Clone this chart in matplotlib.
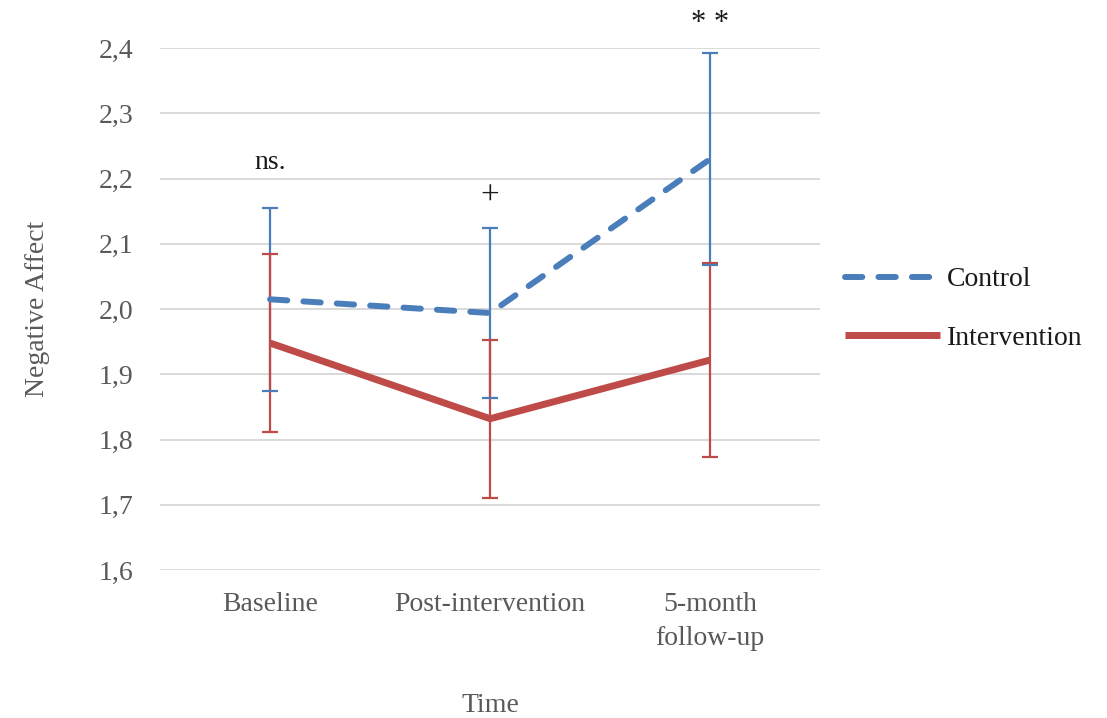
import numpy as np
import matplotlib.pyplot as plt

# data
categories = ['Baseline', 'Post-intervention', '5-month\nfollow-up']
control_mean = [2.015, 1.994, 2.230]
control_err = [0.140, 0.131, 0.163]
interv_mean = [1.948, 1.832, 1.922]
interv_err = [0.136, 0.121, 0.149]
sig_labels = ['ns.', '+', '* *']
sig_heights = [2.224, 2.172, 2.438]
sig_sizes = [20, 24, 22]

blue = '#4A7EBB'
red = '#BE4B48'
grey = '#595959'

plt.rcParams['font.family'] = ['Liberation Serif', 'DejaVu Serif']

fig = plt.figure(figsize=(11.07, 7.18), dpi=100)
ax = fig.add_axes([0.1445, 0.206, 0.5965, 0.727])

x = np.arange(len(categories))

# error bars first, caps on top
_, caps_c, bars_c = ax.errorbar(x, control_mean, yerr=control_err, fmt='none',
                                ecolor=blue, elinewidth=1.6, capsize=5.5,
                                capthick=1.6, zorder=3)
_, caps_i, bars_i = ax.errorbar(x, interv_mean, yerr=interv_err, fmt='none',
                                ecolor=red, elinewidth=1.6, capsize=5.5,
                                capthick=1.6, zorder=4)
for c in caps_c:
    c.set_zorder(5)

ax.plot(x, control_mean, color=blue, lw=4.3, ls=(0, (2.9, 2.7)),
        dash_capstyle='round', label='Control', zorder=6)
ax.plot(x, interv_mean, color=red, lw=5.0, solid_capstyle='butt',
        label='Intervention', zorder=6)

for xi, s, h, fs in zip(x, sig_labels, sig_heights, sig_sizes):
    ax.text(xi, h, s, ha='center', va='center', fontsize=fs, color='#1a1a1a',
            clip_on=False)

ax.set_xlim(-0.5, 2.5)
ax.set_ylim(1.6, 2.4)
ax.set_yticks(np.arange(1.6, 2.41, 0.1))
ax.set_yticklabels([f'{v:.1f}'.replace('.', ',') for v in np.arange(1.6, 2.41, 0.1)])
ax.set_xticks(x)
ax.set_xticklabels(categories, linespacing=1.45)
ax.tick_params(axis='both', length=0, labelsize=20, labelcolor=grey)
ax.tick_params(axis='y', pad=19)
ax.tick_params(axis='x', pad=16)
ax.grid(axis='y', color='#D9D9D9', lw=1.4)
ax.set_axisbelow(True)
for sp in ax.spines.values():
    sp.set_visible(False)

ax.set_xlabel('Time', fontsize=20, color=grey, labelpad=30)
ax.set_ylabel('Negative Affect', fontsize=20, color=grey, labelpad=35)

leg = ax.legend(loc='center left', bbox_to_anchor=(1.0, 0.5), frameon=False,
                fontsize=20, handlelength=3.4, handletextpad=0.25,
                labelspacing=1.2, borderaxespad=0.5)
for t in leg.get_texts():
    t.set_color('#1a1a1a')

fig.savefig('out.png', dpi=100)
